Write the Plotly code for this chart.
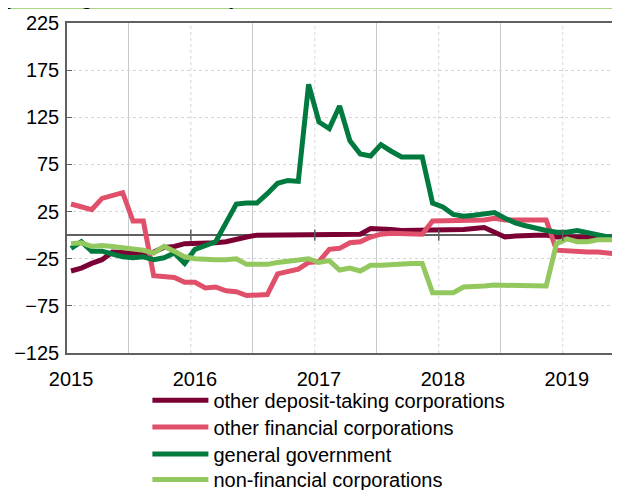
import plotly.graph_objects as go

# ---- data (monthly, Jan 2015 .. Jun 2019) ----
months = list(range(54))
year_labels = ["2015", "2016", "2017", "2018", "2019"]
year_pos = [0, 12, 24, 36, 48]

odc = [-38, -35, -30, -26, -18, -18, -19, -20, -18, -13, -12, -9,
       -9, -9, -8, -7, -4, -2, 0, 0, 0, 0.5, 1, 1,
       1, 1, 1, 1, 1, 7, 7, 6, 5, 5, 5, 5,
       5, 5, 6, 7, 8, 3, -2, -1, 0, 0, 0, -2,
       -2, -2, -2, -3, -3, -3]
ofc = [33, 30, 27, 39, 42, 45, 15, 15, -43, -44, -45, -50,
       -50, -56, -55, -59, -60, -64, -64, -63, -41, -38, -36, -29,
       -28, -15, -14, -8, -7, -2, 1, 2, 2, 2, 1, 15,
       15, 15, 16, 16, 16, 18, 16, 16, 16, 16, 16, -16,
       -17, -17, -18, -18, -19, -20]
gg = [-14, -7, -17, -17, -20, -23, -24, -23, -26, -24, -19, -30,
      -15, -11, -7, 13, 33, 34, 34, 44, 55, 58, 57, 160,
      120, 113, 137, 100, 86, 84, 96, 89, 83, 83, 83, 34,
      30, 22, 20, 21, 23, 24, 18, 13, 10, 7, 5, 3,
      3, 5, 3, 0, -2, -2]
nfc = [-9, -8, -12, -11, -12, -13, -14, -16, -19, -12, -17, -23,
       -25, -26, -26, -26, -25, -31, -31, -31, -29, -28, -27, -25,
       -29, -27, -37, -35, -38, -32, -32, -31, -31, -30, -30, -61,
       -61, -61, -55, -55, -54, -53, -53, -53, -54, -54, -54, -9,
       -4, -7, -7, -5, -5, -5]

names = ["other deposit-taking corporations", "other financial corporations",
         "general government", "non-financial corporations"]
colors = ["#7B0034", "#E0506A", "#007A3E", "#92C85E"]
series = [odc, ofc, gg, nfc]

y_ticks = [-125, -75, -25, 25, 75, 125, 175, 225]
solid_grid = [5.6, 17.6, 29.6, 41.6]
dashed_grid = [11.6, 23.6, 35.6, 47.6]

FONT = "Liberation Sans, Arial, sans-serif"
FS = 20

fig = go.Figure()
legend_ids = ["legend", "legend2", "legend3", "legend4"]
for name, col, ys, lg in zip(names, colors, series, legend_ids):
    fig.add_trace(go.Scatter(x=months, y=ys, mode="lines", name=name, legend=lg,
                             line=dict(color=col, width=5)))

shapes = []
for xv in dashed_grid:
    shapes.append(dict(type="line", xref="x", yref="paper", x0=xv, x1=xv, y0=0, y1=1,
                       line=dict(color="#D4D4D4", width=1, dash="dot"), layer="below"))
    shapes.append(dict(type="line", xref="x", yref="y", x0=xv, x1=xv, y0=-6, y1=6,
                       line=dict(color="#606060", width=1.5), layer="above"))
# green rule under the (cut) subtitle
shapes.append(dict(type="line", xref="paper", yref="paper", x0=-0.11, x1=1.0,
                   y0=1.047, y1=1.047, line=dict(color="#8CC85A", width=2.5)))
fig.update_layout(shapes=shapes)

fig.add_annotation(text="<b>(annual growth rates, %)</b>", xref="paper", yref="paper",
                   x=-0.116, y=1.075, xanchor="left", yanchor="middle", showarrow=False,
                   font=dict(family=FONT, size=FS, color="#000000"))

# row centres of the stacked legend (in paper units below the plot)
legend_rows = [-0.143, -0.224, -0.306, -0.383]
leg_common = dict(x=0.1433, xanchor="left", yanchor="middle",
                  font=dict(family=FONT, size=FS), bgcolor="rgba(0,0,0,0)", itemwidth=56)

fig.update_layout(
    width=620, height=482,
    margin=dict(l=59, r=0, t=15, b=137, pad=0, autoexpand=False),
    paper_bgcolor="white", plot_bgcolor="white",
    font=dict(family=FONT, size=FS, color="#000000"),
    showlegend=True,
    legend=dict(y=legend_rows[0], **leg_common),
    legend2=dict(y=legend_rows[1], **leg_common),
    legend3=dict(y=legend_rows[2], **leg_common),
    legend4=dict(y=legend_rows[3], **leg_common),
    xaxis=dict(range=[-0.39, 53.92], tickmode="array", tickvals=year_pos, ticktext=year_labels,
               showgrid=False, zeroline=False, ticks="", showline=True, mirror=True,
               linecolor="#606060", linewidth=1.5, ticklabelstandoff=7,
               minor=dict(tickmode="array", tickvals=solid_grid, showgrid=True,
                          gridcolor="#C5CBCF", gridwidth=1.2, ticks="")),
    yaxis=dict(range=[-125, 225], tickmode="array", tickvals=y_ticks,
               showgrid=True, gridcolor="#D4D4D4", griddash="dot", gridwidth=1,
               zeroline=True, zerolinecolor="#606060", zerolinewidth=2,
               showline=True, linecolor="#606060", linewidth=1.5,
               ticks="inside", ticklen=5, tickcolor="#606060", ticklabelstandoff=2),
)

fig.write_html("out.html")
